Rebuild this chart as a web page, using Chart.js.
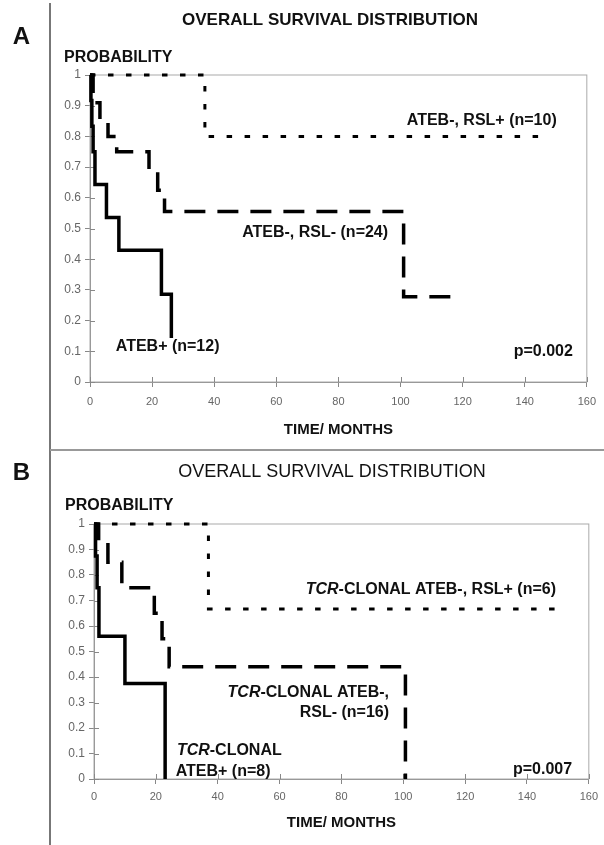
<!DOCTYPE html>
<html>
<head>
<meta charset="utf-8">
<title>Overall survival distribution</title>
<script src="https://cdn.jsdelivr.net/npm/chart.js@4.4.1/dist/chart.umd.min.js"></script>
<style>
  body { margin: 0; background: #fff; }
  #page { position: relative; width: 604px; height: 845px; overflow: hidden; }
  canvas { position: absolute; left: 0; }
  #chartA { top: 0; }
  #chartB { top: 450px; }
  .vline { position: absolute; left: 49px; top: 3px; width: 2px; height: 842px; background: #777; }
  .hline { position: absolute; left: 50px; top: 449px; width: 554px; height: 2px; background: #999; }
</style>
</head>
<body>
<div id="page">
  <canvas id="chartA" width="604" height="450"></canvas>
  <canvas id="chartB" width="604" height="395"></canvas>
  <div class="vline"></div>
  <div class="hline"></div>
</div>
<script>
// Axis ticks shared by both panels
const timeTicks = [0, 20, 40, 60, 80, 100, 120, 140, 160];
const timeLabels = ['0', '20', '40', '60', '80', '100', '120', '140', '160'];
const probTicks = [0, 0.1, 0.2, 0.3, 0.4, 0.5, 0.6, 0.7, 0.8, 0.9, 1];
const probLabels = ['0', '0.1', '0.2', '0.3', '0.4', '0.5', '0.6', '0.7', '0.8', '0.9', '1'];

// Panel A - Kaplan-Meier steps (time in months, survival probability)
const aRslPosTime = [0, 37, 148];
const aRslPosProb = [1, 0.8, 0.8];
const aRslNegTime = [0, 1, 3.2, 5.8, 8.6, 19, 21.8, 24, 101, 119.5];
const aRslNegProb = [1, 0.91, 0.85, 0.8, 0.75, 0.69, 0.625, 0.555, 0.278, 0.278];
const aAtebPosTime = [0, 0.3, 0.6, 1, 1.6, 5.3, 9.3, 23, 26.2];
const aAtebPosProb = [1, 0.917, 0.833, 0.75, 0.643, 0.536, 0.429, 0.286, 0.143];

// Panel B - TCR-clonal subgroups
const bRslPosTime = [0, 37, 149];
const bRslPosProb = [1, 0.667, 0.667];
const bRslNegTime = [0, 1.5, 4.5, 9, 19.5, 22, 24.3, 100.7];
const bRslNegProb = [1, 0.93, 0.85, 0.75, 0.65, 0.55, 0.44, 0];
const bAtebPosTime = [0, 0.5, 1, 1.6, 10, 23];
const bAtebPosProb = [1, 0.875, 0.75, 0.56, 0.375, 0];

const FONT = "'Liberation Sans', Arial, sans-serif";

const lineStyles = {
  solid:  { width: 3.5, dash: [] },
  dashed: { width: 3.5, dash: [21, 12] },
  dotted: { width: 3, dash: [5.5, 12.5] }
};

// Draw a string made of runs, some of them italic
function drawRuns(ctx, runs, x, y, align, size) {
  const fonts = runs.map(r => (r[1] ? 'italic ' : '') + 'bold ' + size + 'px ' + FONT);
  let total = 0;
  const widths = runs.map((r, i) => {
    ctx.font = fonts[i];
    const w = ctx.measureText(r[0]).width;
    total += w;
    return w;
  });
  let cx = align === 'right' ? x - total : (align === 'center' ? x - total / 2 : x);
  ctx.textAlign = 'left';
  runs.forEach((r, i) => {
    ctx.font = fonts[i];
    ctx.fillText(r[0], cx, y);
    cx += widths[i];
  });
}

// Frame, inner tick stubs, headings and curve labels
function panelPlugin(cfg) {
  return {
    id: 'panelText',
    beforeDatasetsDraw(chart) {
      const { ctx, chartArea: a, scales } = chart;
      ctx.save();
      ctx.strokeStyle = '#aaa';
      ctx.lineWidth = 1;
      ctx.strokeRect(a.left, a.top, a.right - a.left, a.bottom - a.top);
      ctx.strokeStyle = '#888';
      ctx.beginPath();
      probTicks.forEach(v => {
        const y = Math.round(scales.y.getPixelForValue(v)) + 0.5;
        ctx.moveTo(a.left, y);
        ctx.lineTo(a.left + 5, y);
      });
      timeTicks.forEach(v => {
        const x = Math.round(scales.x.getPixelForValue(v)) + 0.5;
        ctx.moveTo(x, a.bottom);
        ctx.lineTo(x, a.bottom - 5);
      });
      ctx.stroke();
      ctx.restore();
    },
    afterDraw(chart) {
      const { ctx, scales } = chart;
      ctx.save();
      ctx.fillStyle = '#111';
      ctx.textBaseline = 'middle';
      ctx.textAlign = 'center';
      ctx.font = 'bold 24px ' + FONT;
      ctx.fillText(cfg.letter, cfg.letterPos[0], cfg.letterPos[1]);
      ctx.font = (cfg.titleBold ? 'bold 17px ' : '18px ') + FONT;
      ctx.fillText('OVERALL SURVIVAL DISTRIBUTION', cfg.titlePos[0], cfg.titlePos[1]);
      ctx.textAlign = 'left';
      ctx.font = 'bold 16px ' + FONT;
      ctx.fillText('PROBABILITY', cfg.probPos[0], cfg.probPos[1]);
      cfg.notes.forEach(n => {
        drawRuns(ctx, n.runs, scales.x.getPixelForValue(n.t), scales.y.getPixelForValue(n.p), n.align, 16);
      });
      ctx.restore();
    }
  };
}

function buildChart(id, series, layout, text) {
  const axisGrid = { drawOnChartArea: false, drawTicks: true, tickLength: 5, color: '#888', tickColor: '#888' };
  return new Chart(document.getElementById(id), {
    type: 'line',
    data: {
      datasets: series.map(s => ({
        data: s.time.map((t, i) => ({ x: t, y: s.prob[i] })),
        stepped: 'before',
        borderColor: '#000',
        borderWidth: lineStyles[s.style].width,
        borderDash: lineStyles[s.style].dash,
        pointRadius: 0,
        fill: false,
        clip: false
      }))
    },
    options: {
      responsive: false,
      animation: false,
      layout: { padding: layout.padding },
      plugins: { legend: { display: false }, tooltip: { enabled: false } },
      scales: {
        x: {
          type: 'linear', min: 0, max: 160,
          afterBuildTicks: s => { s.ticks = timeTicks.map(v => ({ value: v })); },
          afterFit: s => { s.height = layout.xHeight; },
          grid: axisGrid,
          border: { color: '#888', width: 1 },
          ticks: {
            color: '#666', padding: layout.xTickPad, maxRotation: 0, autoSkip: false,
            font: { family: FONT, size: 11 },
            callback: (v, i) => timeLabels[i]
          },
          title: {
            display: true, text: 'TIME/ MONTHS', color: '#111',
            font: { family: FONT, size: 15, weight: 'bold' },
            padding: { top: 0, bottom: layout.xTitlePad }
          }
        },
        y: {
          type: 'linear', min: 0, max: 1,
          afterBuildTicks: s => { s.ticks = probTicks.map(v => ({ value: v })); },
          afterFit: s => { s.width = layout.yWidth; },
          grid: axisGrid,
          border: { color: '#888', width: 1 },
          ticks: {
            color: '#666', padding: 4,
            font: { family: FONT, size: 12 },
            callback: (v, i) => probLabels[i]
          }
        }
      }
    },
    plugins: [panelPlugin(text)]
  });
}

buildChart('chartA', [
  { time: aRslPosTime, prob: aRslPosProb, style: 'dotted' },
  { time: aRslNegTime, prob: aRslNegProb, style: 'dashed' },
  { time: aAtebPosTime, prob: aAtebPosProb, style: 'solid' }
], {
  padding: { left: 0, top: 75, right: 11, bottom: 0 },
  yWidth: 90, xHeight: 68, xTickPad: 8, xTitlePad: 11
}, {
  letter: 'A', letterPos: [21.5, 37],
  titleBold: true, titlePos: [330, 20.5],
  probPos: [64, 57.5],
  notes: [
    { runs: [['ATEB-, RSL+ (n=10)', 0]], t: 150.3, p: 0.853, align: 'right' },
    { runs: [['ATEB-, RSL- (n=24)', 0]], t: 96, p: 0.486, align: 'right' },
    { runs: [['ATEB+ (n=12)', 0]], t: 8.3, p: 0.114, align: 'left' },
    { runs: [['p=0.002', 0]], t: 155.5, p: 0.098, align: 'right' }
  ]
});

buildChart('chartB', [
  { time: bRslPosTime, prob: bRslPosProb, style: 'dotted' },
  { time: bRslNegTime, prob: bRslNegProb, style: 'dashed' },
  { time: bAtebPosTime, prob: bAtebPosProb, style: 'solid' }
], {
  padding: { left: 0, top: 74, right: 9, bottom: 0 },
  yWidth: 94, xHeight: 66, xTickPad: 6, xTitlePad: 13
}, {
  letter: 'B', letterPos: [21.5, 23],
  titleBold: false, titlePos: [332, 22.5],
  probPos: [65, 56],
  notes: [
    { runs: [['TCR', 1], ['-CLONAL ATEB-, RSL+ (n=6)', 0]], t: 149.4, p: 0.744, align: 'right' },
    { runs: [['TCR', 1], ['-CLONAL ATEB-,', 0]], t: 95.4, p: 0.338, align: 'right' },
    { runs: [['RSL- (n=16)', 0]], t: 95.4, p: 0.26, align: 'right' },
    { runs: [['TCR', 1], ['-CLONAL', 0]], t: 26.8, p: 0.111, align: 'left' },
    { runs: [['ATEB+ (n=8)', 0]], t: 26.4, p: 0.029, align: 'left' },
    { runs: [['p=0.007', 0]], t: 154.6, p: 0.035, align: 'right' }
  ]
});
</script>
</body>
</html>
